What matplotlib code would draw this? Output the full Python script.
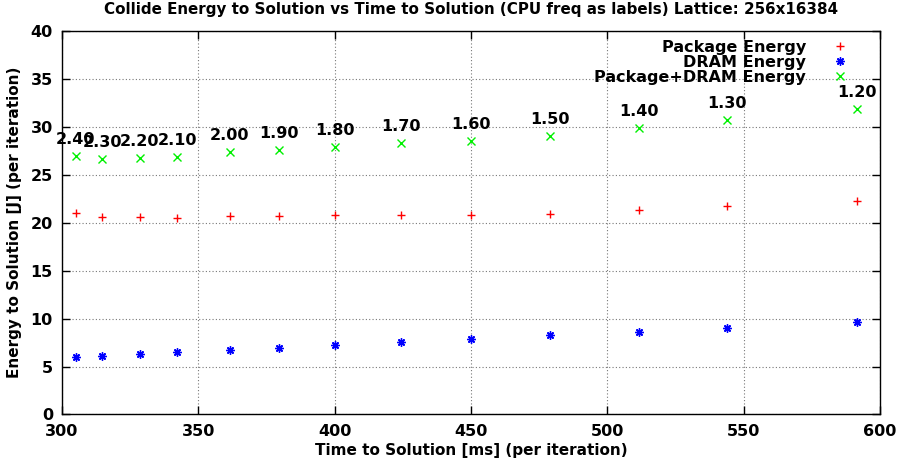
import numpy as np
import matplotlib.pyplot as plt

# collide energy vs time, labels are cpu freq (GHz)
freq_labels = ["2.40", "2.30", "2.20", "2.10", "2.00", "1.90", "1.80",
               "1.70", "1.60", "1.50", "1.40", "1.30", "1.20"]
time_ms = [305.0, 314.7, 328.5, 342.3, 361.5, 379.5, 400.2,
           424.2, 450.0, 479.0, 511.6, 543.8, 591.5]
pkg_energy = [21.04, 20.63, 20.56, 20.49, 20.70, 20.70, 20.77,
              20.77, 20.77, 20.94, 21.29, 21.74, 22.29]
dram_energy = [6.03, 6.10, 6.28, 6.49, 6.73, 6.97, 7.22,
               7.53, 7.84, 8.29, 8.63, 9.05, 9.61]
total_energy = [26.99, 26.61, 26.72, 26.85, 27.34, 27.61, 27.89,
                28.34, 28.55, 29.07, 29.91, 30.74, 31.89]

plt.rcParams['font.family'] = 'DejaVu Sans'
plt.rcParams['font.weight'] = 'bold'

fig = plt.figure(figsize=(8.98, 4.61), dpi=100)
ax = fig.add_axes([0.069, 0.1009, 0.911, 0.8319])

ax.plot(time_ms, pkg_energy, ls='none', marker='+', ms=5.5, mew=1,
        color='#ff0000', label='Package Energy')
ax.plot(time_ms, dram_energy, ls='none', marker=(8, 2, 0), ms=6, mew=1,
        color='#0000ff', label='DRAM Energy')
ax.plot(time_ms, total_energy, ls='none', marker='x', ms=5.5, mew=1,
        color='#00f000', label='Package+DRAM Energy')

for t, e, lab in zip(time_ms, total_energy, freq_labels):
    ax.annotate(lab, (t, e), xytext=(0, 12), textcoords='offset points',
                ha='center', va='center', fontsize=11.5, fontweight='bold')

ax.set_xlim(300, 600)
ax.set_ylim(0, 40)
ax.set_xticks(np.arange(300, 601, 50))
ax.set_yticks(np.arange(0, 41, 5))
ax.tick_params(direction='in', length=6, width=1, top=True, right=True,
               labelsize=11.5, pad=6.5)
for lab in ax.get_xticklabels() + ax.get_yticklabels():
    lab.set_fontweight('bold')
ax.grid(True, color='#777777', ls=(0, (1, 2)), lw=0.8)
for s in ax.spines.values():
    s.set_linewidth(1)

ax.set_title('Collide Energy to Solution vs Time to Solution (CPU freq as labels) Lattice: 256x16384',
             fontsize=10.9, fontweight='bold', pad=12)
ax.set_xlabel('Time to Solution [ms] (per iteration)', fontsize=11, fontweight='bold', labelpad=3)
ax.set_ylabel('Energy to Solution [J] (per iteration)', fontsize=11, fontweight='bold', labelpad=6)

leg = ax.legend(loc='upper right', frameon=False, markerfirst=False, fontsize=11.5,
                handletextpad=1.6, labelspacing=0.0, borderaxespad=0.15,
                handlelength=1.0, bbox_to_anchor=(0.971, 1.0))
for col in leg._legend_handle_box.get_children():
    col.align = 'right'

fig.savefig('out.png', dpi=100)
